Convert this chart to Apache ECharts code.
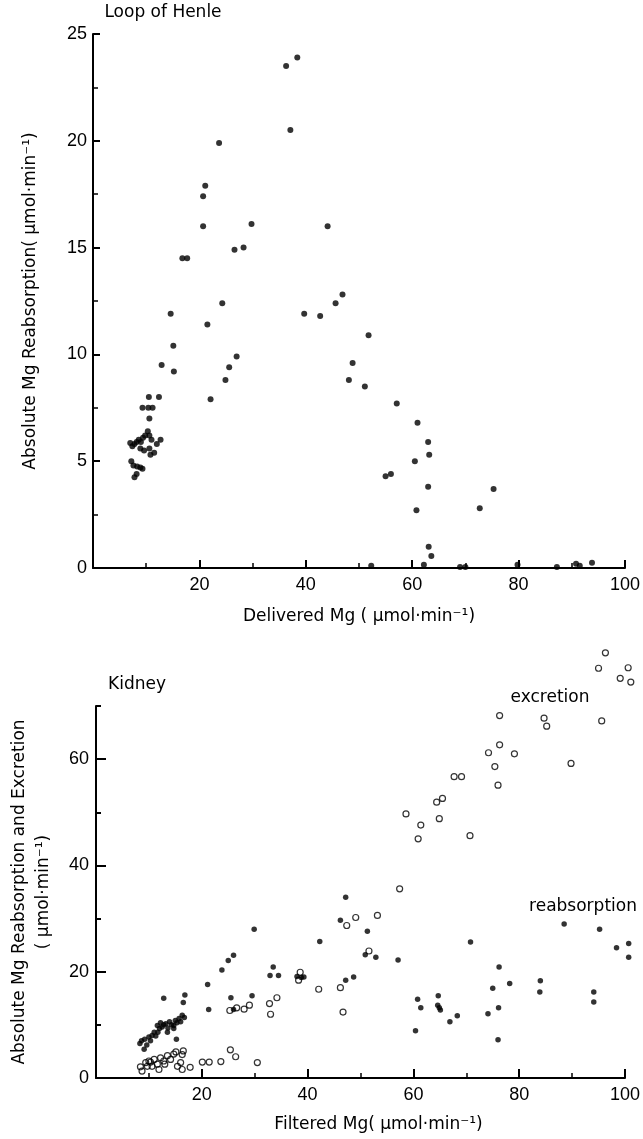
<!DOCTYPE html>
<html>
<head>
<meta charset="utf-8">
<script src="https://cdn.jsdelivr.net/npm/echarts@6/dist/echarts.min.js"></script>
<style>
html,body{margin:0;padding:0;background:#fff;}
#chart{width:643px;height:1139px;}
</style>
</head>
<body>
<div id="chart"></div>
<script>
// ---- Loop of Henle: delivered Mg vs absolute Mg reabsorption (umol/min)
const henleX = [36.3,38.4,37.1,23.7,21.1,20.7,20.7,29.8,44.1,16.8,17.7,26.6,28.3,24.3,14.6,39.7,42.7,45.6,46.9,21.5,
  15.1,15.2,12.9,27.0,25.6,24.9,22.1,51.8,48.8,48.1,51.1,57.1,61.0,63.0,63.2,60.5,55.0,56.0,63.0,60.8,72.7,75.3,63.1,63.6,
  52.3,62.2,69.0,70.0,79.8,87.2,90.8,91.5,93.8,
  10.5,12.4,9.3,10.4,11.2,10.6,
  7.0,7.4,7.8,8.2,8.6,9.0,9.4,9.8,10.3,10.6,11.0,10.6,9.6,8.9,12.0,12.7,11.5,10.8,
  7.2,7.6,8.3,8.9,9.3,8.2,7.8];
const henleY = [23.5,23.9,20.5,19.9,17.9,17.4,16.0,16.1,16.0,14.5,14.5,14.9,15.0,12.4,11.9,11.9,11.8,12.4,12.8,11.4,
  10.4,9.2,9.5,9.9,9.4,8.8,7.9,10.9,9.6,8.8,8.5,7.7,6.8,5.9,5.3,5.0,4.3,4.4,3.8,2.7,2.8,3.7,1.0,0.56,
  0.1,0.15,0.05,0.05,0.15,0.05,0.2,0.1,0.25,
  8.0,8.0,7.5,7.5,7.5,7.0,
  5.85,5.7,5.8,5.9,6.0,5.9,6.1,6.2,6.4,6.2,6.0,5.6,5.5,5.6,5.8,6.0,5.4,5.3,
  5.0,4.8,4.75,4.7,4.65,4.4,4.25];

// ---- Kidney: filtered Mg vs reabsorption (filled) and excretion (open)
const reabsX = [8.3,8.6,9.1,9.2,9.6,10.0,10.3,10.6,11.0,11.3,11.6,11.7,12.0,12.2,12.5,12.8,13.2,13.5,13.6,13.9,14.3,14.7,14.7,15.0,15.3,15.7,16.0,16.3,16.7,15.2,12.8,16.5,16.8,
  21.1,21.3,23.8,25.0,26.0,29.9,25.5,29.5,26.0,33.5,32.9,34.5,38.0,38.8,39.3,42.3,46.2,47.2,47.2,48.7,51.3,50.9,52.9,57.1,
  60.4,60.8,61.4,64.7,64.6,64.9,65.1,66.9,68.3,70.8,74.1,75.0,76.1,76.2,76.0,78.2,84.0,83.9,88.5,94.1,94.1,95.2,98.4,100.7,100.7];
const reabsY = [6.5,7.0,5.4,7.3,6.2,7.7,7.0,8.0,8.6,7.9,9.9,8.6,9.3,10.4,9.6,10.0,10.2,8.6,9.4,10.6,10.0,9.9,9.3,10.8,10.4,11.2,10.6,11.8,11.4,7.3,15.0,14.2,15.6,
  17.6,12.9,20.3,22.1,23.1,28.0,15.1,15.5,12.9,20.9,19.3,19.3,19.1,18.9,19.0,25.7,29.7,34.0,18.4,19.0,27.6,23.2,22.7,22.2,
  8.9,14.8,13.2,15.5,13.7,13.2,12.8,10.6,11.7,25.6,12.1,16.9,13.2,20.9,7.2,17.8,18.3,16.2,29.0,16.2,14.3,28.0,24.5,25.3,22.7];
const excrX = [8.4,8.7,9.4,9.7,10.0,10.6,11.0,11.6,11.9,12.2,12.8,13.5,14.1,14.7,15.1,15.4,16.0,16.3,16.5,16.3,17.8,13.0,10.3,
  20.1,21.4,23.6,25.4,26.4,30.5,25.3,26.6,28.0,29.0,32.8,34.2,33.0,38.3,38.6,42.1,46.2,46.7,47.4,49.1,53.2,51.6,57.4,
  58.6,60.9,61.4,64.4,65.5,64.9,67.7,69.1,70.7,74.2,75.4,76.0,76.3,76.3,79.1,84.7,85.2,89.8,95.0,95.6,96.3,99.1,100.6,101.1];
const excrY = [2.1,1.3,2.9,2.2,3.2,2.2,3.5,2.6,1.6,3.8,3.2,4.2,3.5,4.5,4.9,2.2,2.9,1.6,5.1,4.4,2.0,2.6,3.0,
  3.0,3.0,3.1,5.3,4.0,2.9,12.7,13.2,12.95,13.7,14.0,15.1,12.0,18.4,19.9,16.7,17.0,12.4,28.7,30.2,30.6,23.9,35.6,
  49.7,45.0,47.6,51.9,52.6,48.8,56.7,56.7,45.6,61.2,58.6,55.1,62.7,68.2,61.0,67.7,66.2,59.2,77.1,67.2,80.0,75.2,77.2,74.5];

// ---- tick labels
const henleXLabels = [20,40,60,80,100];
const henleYLabels = [0,5,10,15,20,25];
const kidneyXLabels = [20,40,60,80,100];
const kidneyYLabels = [0,20,40,60];

const zip = (xs, ys) => xs.map((x, i) => [x, ys[i]]);

const NUM_FONT = 'Liberation Sans';
const TXT_FONT = 'DejaVu Sans';
const BLACK = '#000';

function labelFmt(list) {
  return v => (list.indexOf(v) >= 0 ? String(v) : '');
}
const lineStyle = { color: BLACK, width: 2 };
const nameStyle = { color: BLACK, fontSize: 17, fontFamily: TXT_FONT };

const option = {
  animation: false,
  backgroundColor: '#fff',
  grid: [
    { left: 93, top: 34, width: 535, height: 534 },
    { left: 95, top: 706, width: 532, height: 372 }
  ],
  xAxis: [
    {
      gridIndex: 0, type: 'value', min: 0, max: 100, interval: 20,
      axisLine: { lineStyle: lineStyle },
      axisTick: { inside: true, length: 8, lineStyle: { color: BLACK, width: 2 } },
      minorTick: { show: true, splitNumber: 2, length: 5, lineStyle: { color: BLACK, width: 1.5 } },
      splitLine: { show: false },
      axisLabel: { formatter: labelFmt(henleXLabels), color: BLACK, fontSize: 18, fontFamily: NUM_FONT, margin: 8 },
      name: 'Delivered Mg ( μmol·min⁻¹)', nameLocation: 'middle', nameGap: 40, nameTextStyle: nameStyle
    },
    {
      gridIndex: 1, type: 'value', min: 0, max: 100, interval: 20,
      axisLine: { lineStyle: lineStyle },
      axisTick: { inside: true, length: 9, lineStyle: { color: BLACK, width: 2 } },
      minorTick: { show: true, splitNumber: 2, length: 5, lineStyle: { color: BLACK, width: 1.5 } },
      splitLine: { show: false },
      axisLabel: { formatter: labelFmt(kidneyXLabels), color: BLACK, fontSize: 18, fontFamily: NUM_FONT, margin: 8 },
      name: 'Filtered Mg( μmol·min⁻¹)', nameLocation: 'middle', nameGap: 38,
      nameTextStyle: Object.assign({ padding: [0, 0, 0, 36] }, nameStyle)
    }
  ],
  yAxis: [
    {
      gridIndex: 0, type: 'value', min: 0, max: 25, interval: 5, position: 'left',
      axisLine: { lineStyle: lineStyle },
      axisTick: { inside: true, length: 7, lineStyle: { color: BLACK, width: 2 } },
      minorTick: { show: true, splitNumber: 2, length: 5, lineStyle: { color: BLACK, width: 1.5 } },
      splitLine: { show: false },
      axisLabel: { formatter: labelFmt(henleYLabels), color: BLACK, fontSize: 18, fontFamily: NUM_FONT, margin: 6 },
      name: 'Absolute Mg Reabsorption( μmol·min⁻¹)', nameLocation: 'middle', nameGap: 54, nameTextStyle: nameStyle
    },
    {
      gridIndex: 1, type: 'value', min: 0, max: 70, interval: 10, position: 'left',
      axisLine: { lineStyle: lineStyle },
      axisTick: { inside: true, length: 5, lineStyle: { color: BLACK, width: 2 } },
      splitLine: { show: false },
      axisLabel: { formatter: labelFmt(kidneyYLabels), color: BLACK, fontSize: 18, fontFamily: NUM_FONT, margin: 7 },
      name: 'Absolute Mg Reabsorption and Excretion\n( μmol·min⁻¹)', nameLocation: 'middle', nameGap: 40,
      nameTextStyle: Object.assign({ lineHeight: 24 }, nameStyle)
    },
    {
      gridIndex: 1, type: 'value', min: 0, max: 70, interval: 20, position: 'left',
      axisLine: { show: false },
      axisTick: { inside: true, length: 10, customValues: [0, 20, 40, 60], lineStyle: { color: BLACK, width: 2 } },
      splitLine: { show: false },
      axisLabel: { show: false }
    }
  ],
  graphic: [
    { type: 'text', x: 163, y: 13, style: { text: 'Loop of Henle', fill: BLACK, font: '17px "DejaVu Sans"', align: 'center', verticalAlign: 'middle' } },
    { type: 'text', x: 137, y: 685, style: { text: 'Kidney', fill: BLACK, font: '17px "DejaVu Sans"', align: 'center', verticalAlign: 'middle' } },
    { type: 'text', x: 550, y: 698, style: { text: 'excretion', fill: BLACK, font: '17px "DejaVu Sans"', align: 'center', verticalAlign: 'middle' } },
    { type: 'text', x: 583, y: 907, style: { text: 'reabsorption', fill: BLACK, font: '17px "DejaVu Sans"', align: 'center', verticalAlign: 'middle' } }
  ],
  series: [
    {
      name: 'Loop of Henle', type: 'scatter', xAxisIndex: 0, yAxisIndex: 0, clip: false,
      symbol: 'circle', symbolSize: 6, itemStyle: { color: BLACK },
      data: zip(henleX, henleY)
    },
    {
      name: 'excretion', type: 'scatter', xAxisIndex: 1, yAxisIndex: 1, clip: false,
      symbol: 'circle', symbolSize: 6,
      itemStyle: { color: 'rgba(255,255,255,0)', borderColor: BLACK, borderWidth: 1.2 },
      data: zip(excrX, excrY)
    },
    {
      name: 'reabsorption', type: 'scatter', xAxisIndex: 1, yAxisIndex: 1, clip: false,
      symbol: 'circle', symbolSize: 5.5, itemStyle: { color: BLACK },
      data: zip(reabsX, reabsY)
    }
  ]
};

const chart = echarts.init(document.getElementById('chart'), null, { renderer: 'canvas' });
chart.setOption(option);
</script>
</body>
</html>
